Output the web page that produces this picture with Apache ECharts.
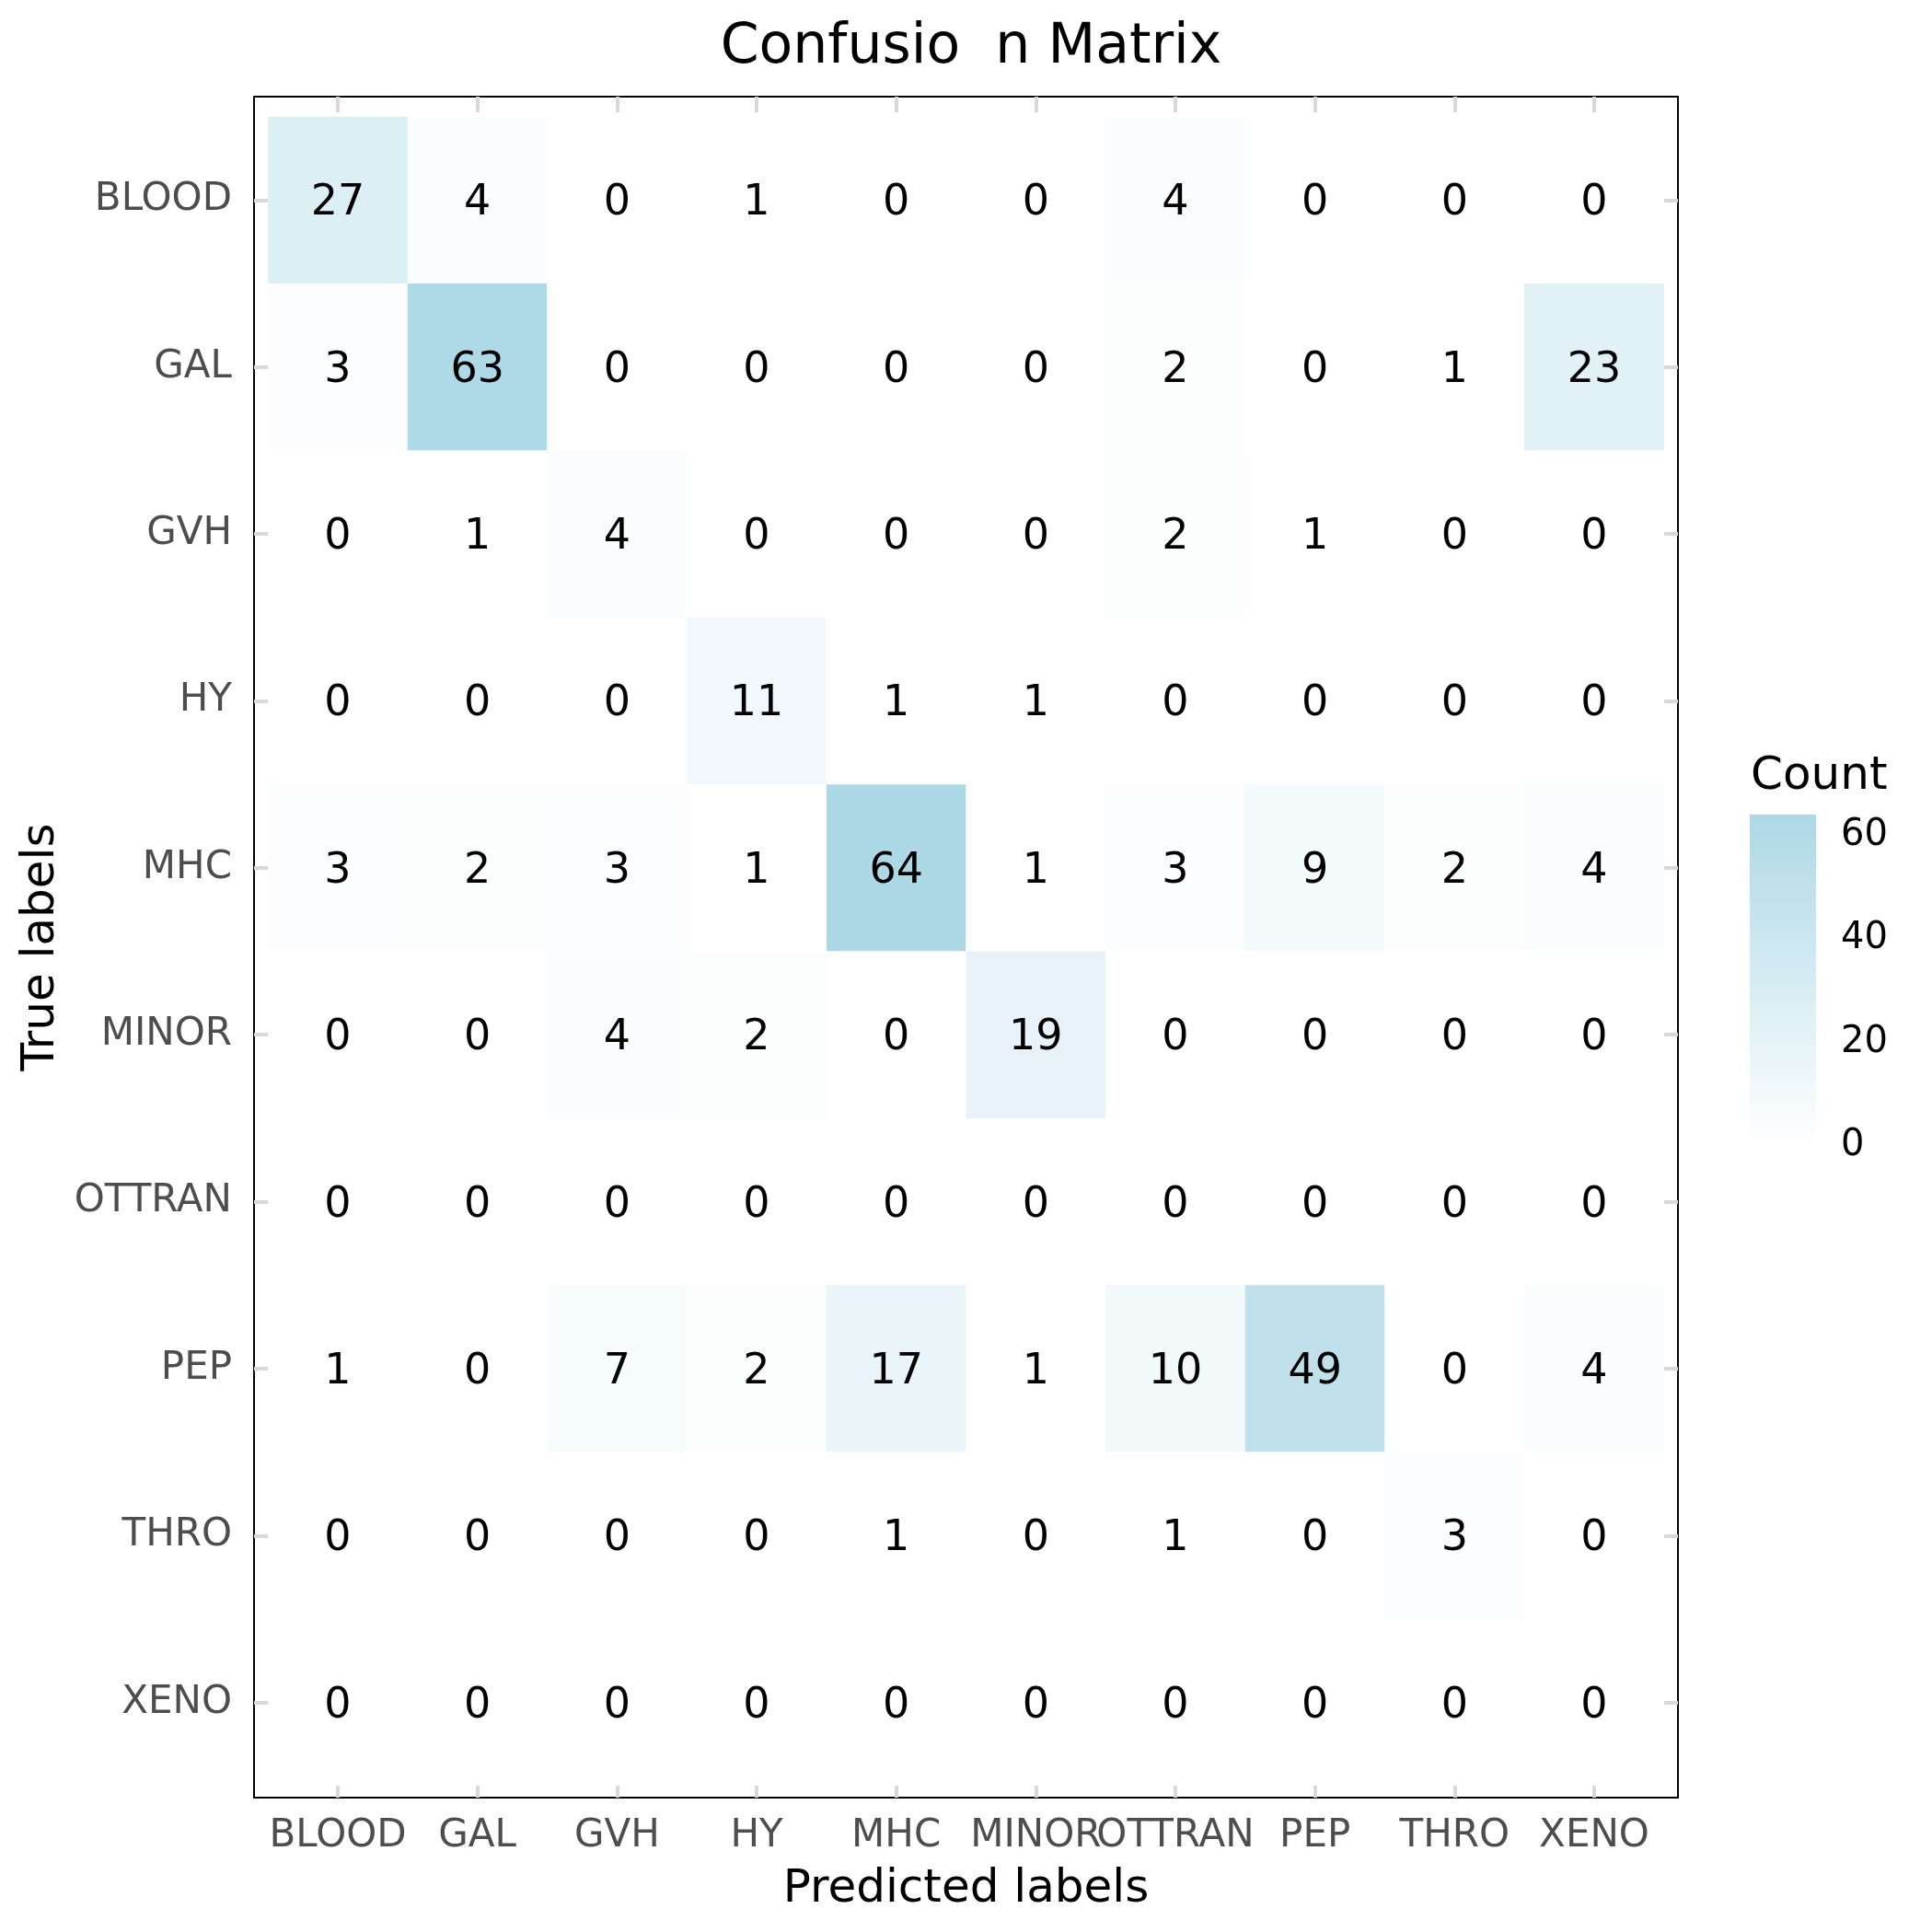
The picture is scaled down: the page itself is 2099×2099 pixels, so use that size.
<!DOCTYPE html>
<html>
<head>
<meta charset="utf-8">
<script src="https://cdn.jsdelivr.net/npm/echarts@6/dist/echarts.min.js"></script>
<style>
  html, body { margin: 0; padding: 0; background: #fff; }
  #chart { width: 2099px; height: 2099px; }
</style>
</head>
<body>
<div id="chart"></div>
<script>
  // 类别
  var predictedLabels = ['BLOOD', 'GAL', 'GVH', 'HY', 'MHC', 'MINOR', 'OTTRAN', 'PEP', 'THRO', 'XENO']
  var trueLabels = ['BLOOD', 'GAL', 'GVH', 'HY', 'MHC', 'MINOR', 'OTTRAN', 'PEP', 'THRO', 'XENO']

  // 每行 = 真实类别, 每列 = 预测类别
  var rowBLOOD = [27, 4, 0, 1, 0, 0, 4, 0, 0, 0]
  var rowGAL = [3, 63, 0, 0, 0, 0, 2, 0, 1, 23]
  var rowGVH = [0, 1, 4, 0, 0, 0, 2, 1, 0, 0]
  var rowHY = [0, 0, 0, 11, 1, 1, 0, 0, 0, 0]
  var rowMHC = [3, 2, 3, 1, 64, 1, 3, 9, 2, 4]
  var rowMINOR = [0, 0, 4, 2, 0, 19, 0, 0, 0, 0]
  var rowOTTRAN = [0, 0, 0, 0, 0, 0, 0, 0, 0, 0]
  var rowPEP = [1, 0, 7, 2, 17, 1, 10, 49, 0, 4]
  var rowTHRO = [0, 0, 0, 0, 1, 0, 1, 0, 3, 0]
  var rowXENO = [0, 0, 0, 0, 0, 0, 0, 0, 0, 0]

  var colorbarTicks = [0, 20, 40, 60]
  var countRange = [0, 64]

  var rows = [rowBLOOD, rowGAL, rowGVH, rowHY, rowMHC, rowMINOR, rowOTTRAN, rowPEP, rowTHRO, rowXENO]
  var cells = []
  rows.forEach(function (row, r) {
    row.forEach(function (v, c) {
      cells.push([c, r, v])
    })
  })
  var tickIdx = predictedLabels.map(function (_, i) { return i })

  var FONT = 'DejaVu Sans'
  var tickGray = '#d9d9d9'
  var frameLine = { show: true, onZero: false, lineStyle: { color: '#000', width: 2 } }

  var chart = echarts.init(document.getElementById('chart'))

  function innerTicks() {
    return { show: true, inside: true, length: 17, customValues: tickIdx, lineStyle: { color: tickGray, width: 4 } }
  }

  chart.setOption({
    backgroundColor: '#ffffff',
    animation: false,
    title: [
      {
        text: 'Confusio  n Matrix',
        left: 1050,
        textAlign: 'center',
        top: 17,
        textStyle: { fontFamily: FONT, fontSize: 60, fontWeight: 'normal', color: '#000' }
      },
      {
        text: 'Count',
        left: 1897,
        top: 814,
        textStyle: { fontFamily: FONT, fontSize: 50, fontWeight: 'normal', color: '#000' }
      }
    ],
    grid: [
      { left: 276, top: 105, width: 1547, height: 1848, show: false },
      { left: 1901, top: 885, width: 72, height: 360, show: false }
    ],
    visualMap: {
      type: 'continuous',
      show: false,
      min: countRange[0],
      max: countRange[1],
      dimension: 2,
      seriesIndex: 0,
      inRange: { color: ['#ffffff', '#add8e6'] }
    },
    xAxis: [
      {
        type: 'value', gridIndex: 0, min: -0.6, max: 9.6, position: 'bottom',
        name: 'Predicted labels', nameLocation: 'middle', nameGap: 75,
        nameTextStyle: { fontFamily: FONT, fontSize: 50, color: '#000' },
        axisLine: frameLine,
        axisTick: innerTicks(),
        splitLine: { show: false },
        axisLabel: {
          customValues: tickIdx, margin: 21, fontFamily: FONT, fontSize: 42, color: '#4d4d4d',
          formatter: function (v) { return predictedLabels[Math.round(v)] }
        }
      },
      {
        type: 'value', gridIndex: 0, min: -0.6, max: 9.6, position: 'top',
        axisLine: frameLine, axisTick: innerTicks(), splitLine: { show: false },
        axisLabel: { show: false }
      },
      { type: 'value', gridIndex: 1, min: 0, max: 1, show: false }
    ],
    yAxis: [
      {
        type: 'value', gridIndex: 0, min: -0.62, max: 9.57, inverse: true, position: 'left',
        name: 'True labels', nameLocation: 'middle', nameGap: 202, nameRotate: 90,
        nameTextStyle: { fontFamily: FONT, fontSize: 50, color: '#000' },
        axisLine: frameLine,
        axisTick: innerTicks(),
        splitLine: { show: false },
        axisLabel: {
          customValues: tickIdx, margin: 24, fontFamily: FONT, fontSize: 42, color: '#4d4d4d',
          padding: [9, 0, 0, 0],
          formatter: function (v) { return trueLabels[Math.round(v)] }
        }
      },
      {
        type: 'value', gridIndex: 0, min: -0.62, max: 9.57, inverse: true, position: 'right',
        axisLine: frameLine, axisTick: innerTicks(), splitLine: { show: false },
        axisLabel: { show: false }
      },
      {
        type: 'value', gridIndex: 1, min: countRange[0], max: countRange[1], position: 'right',
        axisLine: { show: false, onZero: false },
        splitLine: { show: false },
        axisTick: { inside: true, length: 14, customValues: colorbarTicks, lineStyle: { color: '#fff', width: 2 } },
        axisLabel: { customValues: colorbarTicks, margin: 27, fontFamily: FONT, fontSize: 40, color: '#000' }
      },
      {
        type: 'value', gridIndex: 1, min: countRange[0], max: countRange[1], position: 'left',
        axisLine: { show: false, onZero: false },
        splitLine: { show: false },
        axisTick: { inside: true, length: 14, customValues: colorbarTicks, lineStyle: { color: '#fff', width: 2 } },
        axisLabel: { show: false }
      }
    ],
    series: [
      {
        type: 'custom',
        xAxisIndex: 0,
        yAxisIndex: 0,
        data: cells,
        z: 3,
        renderItem: function (params, api) {
          var x = api.value(0), y = api.value(1)
          var p0 = api.coord([x - 0.5, y - 0.5])
          var p1 = api.coord([x + 0.5, y + 0.5])
          return {
            type: 'rect',
            shape: {
              x: Math.min(p0[0], p1[0]),
              y: Math.min(p0[1], p1[1]),
              width: Math.abs(p1[0] - p0[0]),
              height: Math.abs(p1[1] - p0[1])
            },
            style: { fill: api.visual('color') },
            textContent: {
              style: { text: String(api.value(2)), fontFamily: FONT, fontSize: 46, fill: '#000' }
            },
            textConfig: { position: 'inside', offset: [0, 4] }
          }
        }
      },
      {
        // 图例色条
        type: 'custom',
        xAxisIndex: 2,
        yAxisIndex: 2,
        data: [countRange],
        z: 1,
        renderItem: function (params, api) {
          var p0 = api.coord([0, api.value(0)])
          var p1 = api.coord([1, api.value(1)])
          return {
            type: 'rect',
            shape: { x: p0[0], y: p1[1], width: p1[0] - p0[0], height: p0[1] - p1[1] },
            style: {
              fill: new echarts.graphic.LinearGradient(0, 1, 0, 0, [
                { offset: 0, color: '#ffffff' },
                { offset: 1, color: '#add8e6' }
              ])
            }
          }
        }
      }
    ]
  })
</script>
</body>
</html>
